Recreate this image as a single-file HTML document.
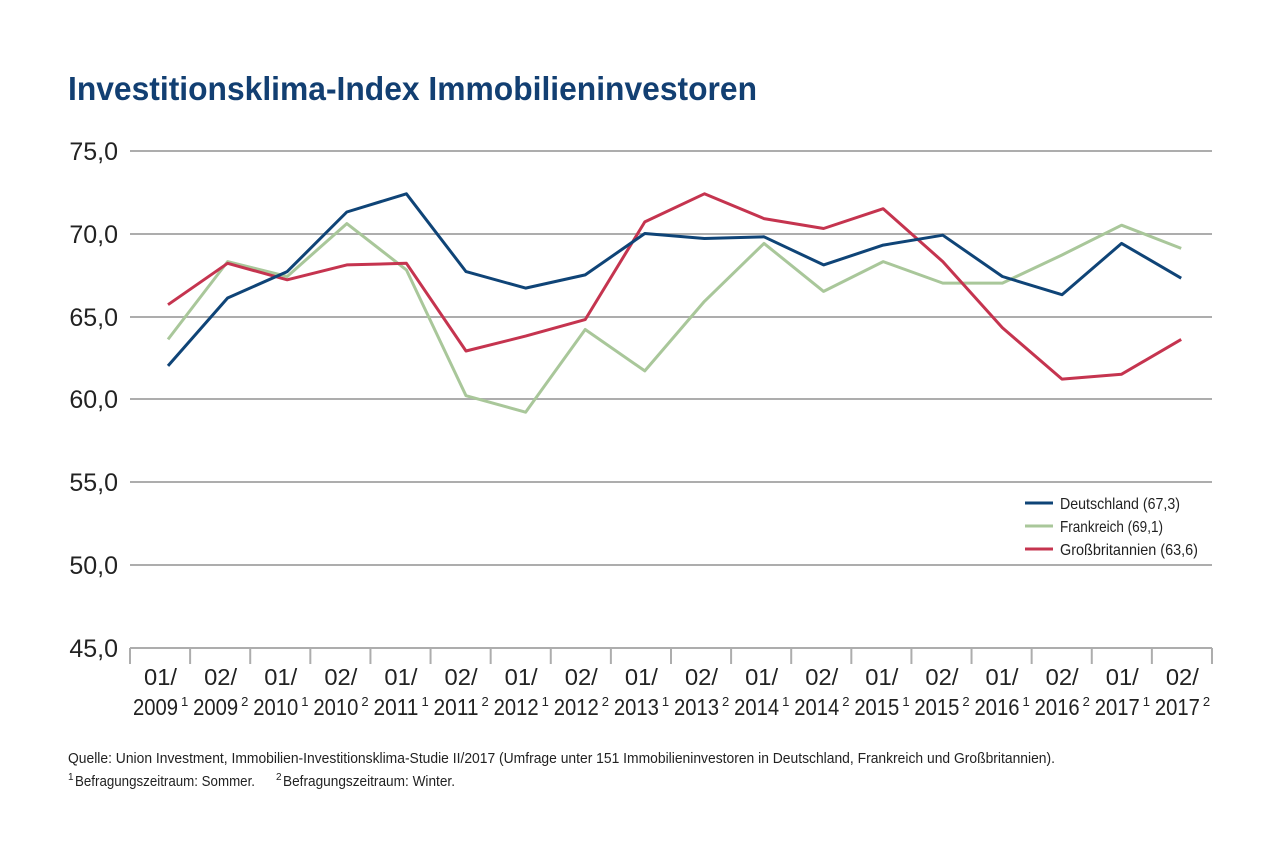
<!DOCTYPE html>
<html><head><meta charset="utf-8"><style>
body{margin:0;background:#fff;}
svg{display:block;font-family:"Liberation Sans Narrow","Liberation Sans",sans-serif;}
</style></head><body>
<svg width="1280" height="864" viewBox="0 0 1280 864">
<text x="68" y="100" font-size="33" font-weight="bold" fill="#123f72" textLength="689" lengthAdjust="spacingAndGlyphs">Investitionsklima-Index Immobilieninvestoren</text>
<g stroke="#adadad" stroke-width="2">
<line x1="130" x2="1212" y1="151" y2="151"/><line x1="130" x2="1212" y1="234" y2="234"/>
<line x1="130" x2="1212" y1="317" y2="317"/><line x1="130" x2="1212" y1="399" y2="399"/>
<line x1="130" x2="1212" y1="482" y2="482"/><line x1="130" x2="1212" y1="565" y2="565"/>
<line x1="130" x2="1212" y1="648" y2="648"/>
</g>
<g stroke="#adadad" stroke-width="2" id="ticks"></g>
<g font-size="25" fill="#222" text-anchor="end">
<text x="118" y="160">75,0</text><text x="118" y="243">70,0</text><text x="118" y="326">65,0</text>
<text x="118" y="408">60,0</text><text x="118" y="491">55,0</text><text x="118" y="574">50,0</text><text x="118" y="657">45,0</text>
</g>
<g id="xl" font-size="23" fill="#222"></g>
<polyline id="fr" fill="none" stroke="#a9c79a" stroke-width="3" stroke-linejoin="round"/>
<polyline id="gb" fill="none" stroke="#c5344f" stroke-width="3" stroke-linejoin="round"/>
<polyline id="de" fill="none" stroke="#0f4477" stroke-width="3" stroke-linejoin="round"/>
<g font-size="16" fill="#222">
<line x1="1025" x2="1053" y1="503" y2="503" stroke="#0f4477" stroke-width="3"/><text x="1060" y="509" textLength="120" lengthAdjust="spacingAndGlyphs">Deutschland (67,3)</text>
<line x1="1025" x2="1053" y1="526" y2="526" stroke="#a9c79a" stroke-width="3"/><text x="1060" y="532" textLength="103" lengthAdjust="spacingAndGlyphs">Frankreich (69,1)</text>
<line x1="1025" x2="1053" y1="549" y2="549" stroke="#c5344f" stroke-width="3"/><text x="1060" y="555" textLength="138" lengthAdjust="spacingAndGlyphs">Großbritannien (63,6)</text>
</g>
<g font-size="14.5" fill="#222">
<text x="68" y="763" textLength="987" lengthAdjust="spacingAndGlyphs">Quelle: Union Investment, Immobilien-Investitionsklima-Studie II/2017 (Umfrage unter 151 Immobilieninvestoren in Deutschland, Frankreich und Großbritannien).</text>
<text x="68" y="780" font-size="10">1</text>
<text x="75" y="786" textLength="180" lengthAdjust="spacingAndGlyphs">Befragungszeitraum: Sommer.</text>
<text x="276" y="780" font-size="10">2</text>
<text x="283" y="786" textLength="172" lengthAdjust="spacingAndGlyphs">Befragungszeitraum: Winter.</text>
</g>
</svg>
<script>
var ns="http://www.w3.org/2000/svg";
function Y(v){return 399-(v-60)*16.55;}
function X(i){return 168+59.6*i;}
function pts(a){return a.map(function(v,i){return X(i).toFixed(1)+","+Y(v).toFixed(1)}).join(" ");}
document.getElementById("de").setAttribute("points",pts([62.0,66.1,67.7,71.3,72.4,67.7,66.7,67.5,70.0,69.7,69.8,68.1,69.3,69.9,67.4,66.3,69.4,67.3]));
document.getElementById("fr").setAttribute("points",pts([63.6,68.3,67.4,70.6,67.8,60.2,59.2,64.2,61.7,65.9,69.4,66.5,68.3,67.0,67.0,68.7,70.5,69.1]));
document.getElementById("gb").setAttribute("points",pts([65.7,68.2,67.2,68.1,68.2,62.9,63.8,64.8,70.7,72.4,70.9,70.3,71.5,68.3,64.3,61.2,61.5,63.6]));
var t=document.getElementById("ticks"),xl=document.getElementById("xl");
for(var i=0;i<=18;i++){var x=130+i*60.11;var l=document.createElementNS(ns,"line");
l.setAttribute("x1",x);l.setAttribute("x2",x);l.setAttribute("y1",648);l.setAttribute("y2",664);t.appendChild(l);}
for(var i=0;i<18;i++){var cx=160+i*60.11;var yr=2009+Math.floor(i/2);var s=(i%2)+1;
var a=document.createElementNS(ns,"text");a.setAttribute("x",cx-16);a.setAttribute("y",685);a.setAttribute("textLength","33");a.setAttribute("lengthAdjust","spacingAndGlyphs");a.textContent="0"+s+"/";xl.appendChild(a);
var b=document.createElementNS(ns,"text");b.setAttribute("x",cx-27);b.setAttribute("y",715);b.setAttribute("textLength","45");b.setAttribute("lengthAdjust","spacingAndGlyphs");b.textContent=yr;xl.appendChild(b);
var c=document.createElementNS(ns,"text");c.setAttribute("x",cx+21);c.setAttribute("y",706);c.setAttribute("font-size","13");c.textContent=s;xl.appendChild(c);}
</script>
</body></html>
